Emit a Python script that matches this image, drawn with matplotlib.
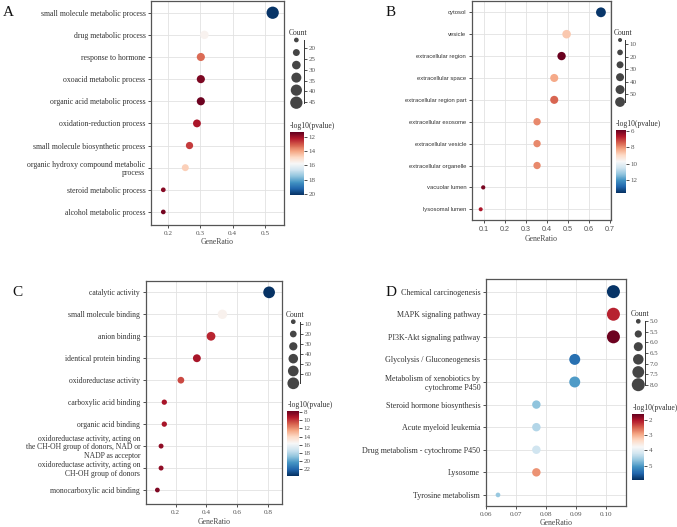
import numpy as np
import matplotlib
matplotlib.use("Agg")
import matplotlib.pyplot as plt
from matplotlib.colors import Normalize
import matplotlib.cm as cm

W, H = 677, 527

# ---------------- data ----------------
a_terms = ["small molecule metabolic process", "drug metabolic process",
           "response to hormone", "oxoacid metabolic process",
           "organic acid metabolic process", "oxidation-reduction process",
           "small molecule biosynthetic process",
           "organic hydroxy compound metabolic\nprocess",
           "steroid metabolic process", "alcohol metabolic process"]
a_ratio = [0.524, 0.313, 0.302, 0.302, 0.302, 0.290, 0.267, 0.254, 0.186, 0.186]
a_count = [45, 27, 26, 26, 26, 25, 23, 22, 16, 16]
a_logp = [20.0, 15.6, 13.3, 11.65, 11.5, 12.2, 12.7, 14.7, 11.8, 11.6]
a_xticks = [0.2, 0.3, 0.4, 0.5]
a_count_ticks = [20, 25, 30, 35, 40, 45]
a_cbar_ticks = [12, 14, 16, 18, 20]

b_terms = ["cytosol", "vesicle", "extracellular region", "extracellular space",
           "extracellular region part", "extracellular exosome",
           "extracellular vesicle", "extracellular organelle",
           "vacuolar lumen", "lysosomal lumen"]
b_ratio = [0.657, 0.493, 0.469, 0.434, 0.434, 0.352, 0.352, 0.352, 0.095, 0.083]
b_count = [56, 42, 40, 37, 37, 30, 30, 30, 8, 7]
b_logp = [13.5, 8.7, 5.95, 8.3, 7.5, 7.9, 7.9, 7.9, 6.1, 6.6]
b_xticks = [0.1, 0.2, 0.3, 0.4, 0.5, 0.6, 0.7]
b_count_ticks = [10, 20, 30, 40, 50]
b_cbar_ticks = [6, 8, 10, 12]

c_terms = ["catalytic activity", "small molecule binding", "anion binding",
           "identical protein binding", "oxidoreductase activity",
           "carboxylic acid binding", "organic acid binding",
           "oxidoreductase activity, acting on\nthe CH-OH group of donors, NAD or\nNADP as acceptor",
           "oxidoreductase activity, acting on\nCH-OH group of donors",
           "monocarboxylic acid binding"]
c_ratio = [0.808, 0.504, 0.430, 0.338, 0.234, 0.126, 0.126, 0.105, 0.105, 0.081]
c_count = [69, 43, 37, 29, 20, 11, 11, 9, 9, 8]
c_logp = [23.5, 15.3, 9.6, 9.1, 10.4, 9.1, 9.1, 8.6, 8.6, 8.2]
c_xticks = [0.2, 0.4, 0.6, 0.8]
c_count_ticks = [10, 20, 30, 40, 50, 60]
c_cbar_ticks = [8, 10, 12, 14, 16, 18, 20, 22]

d_terms = ["Chemical carcinogenesis", "MAPK signaling pathway",
           "PI3K-Akt signaling pathway", "Glycolysis / Gluconeogenesis",
           "Metabolism of xenobiotics by\ncytochrome P450",
           "Steroid hormone biosynthesis", "Acute myeloid leukemia",
           "Drug metabolism - cytochrome P450", "Lysosome", "Tyrosine metabolism"]
d_ratio = [0.1026, 0.1026, 0.1026, 0.0897, 0.0897, 0.0769, 0.0769, 0.0769, 0.0769, 0.0641]
d_count = [8, 8, 8, 7, 7, 6, 6, 6, 6, 5]
d_logp = [5.9, 2.1, 1.65, 5.4, 5.0, 4.65, 4.4, 4.2, 2.8, 4.6]
d_xticks = [0.06, 0.07, 0.08, 0.09, 0.10]
d_count_ticks = [5.0, 5.5, 6.0, 6.5, 7.0, 7.5, 8.0]
d_cbar_ticks = [2, 3, 4, 5]

SERIF = ["Liberation Serif", "DejaVu Serif"]
SANS = ["Liberation Sans", "DejaVu Sans"]

fig = plt.figure(figsize=(W / 100, H / 100), dpi=100)


def rect(l, t, r, b):
    return [l / W, 1 - b / H, (r - l) / W, (b - t) / H]


def sizes(c, cmin, cmax, dmin, dmax):
    c = np.asarray(c, float)
    frac = np.clip((c - cmin) / (cmax - cmin), 0, 1)
    d = np.sqrt(dmin ** 2 + frac * (dmax ** 2 - dmin ** 2))
    return (d * 0.72) ** 2


def panel(letter, letter_xy, terms, ratio, count, logp, xticks, xfmt,
          axr, xlim, ypad, crange, drange, cticks, cfmt, legr, leg_x,
          vrange, vticks, cbr, label_font, label_size, tick_font):
    ax = fig.add_axes(rect(*axr))
    n = len(terms)
    y = np.arange(n)
    s = sizes(count, crange[0], crange[1], drange[0], drange[1])
    ax.scatter(ratio, y, s=s, c=logp, cmap="RdBu", vmin=vrange[0], vmax=vrange[1],
               edgecolors="none", zorder=3)
    ax.set_yticks(y)
    ax.set_yticklabels(terms, fontfamily=label_font, fontsize=label_size,
                       color="#333333", linespacing=1.12)
    ax.set_ylim(n - 1 + ypad[1], -ypad[0])
    ax.set_xlim(*xlim)
    ax.set_xticks(xticks)
    ax.set_xticklabels([xfmt.format(v) for v in xticks], fontfamily=tick_font,
                       fontsize=5.2, color="#555555")
    ax.grid(True, color="#e2e2e2", lw=0.6)
    ax.set_axisbelow(True)
    for sp in ax.spines.values():
        sp.set_color("#555555")
        sp.set_linewidth(0.9)
    ax.tick_params(length=2.5, width=0.6, color="#333333", pad=1.5)
    ax.set_xlabel("GeneRatio", fontfamily=SERIF, fontsize=5.6, color="#444444",
                  labelpad=2)

    # letter
    fig.text(letter_xy[0] / W, 1 - letter_xy[1] / H, letter, fontfamily=SERIF,
             fontsize=11, ha="left", va="baseline", color="#111111")

    # count legend
    lax = fig.add_axes(rect(*legr))
    lax.set_xlim(0, 1)
    lax.set_ylim(crange[1], crange[0])
    vals = np.linspace(crange[0], crange[1], 6)
    lax.scatter(np.full(6, leg_x), vals,
                s=sizes(vals, crange[0], crange[1], drange[0], drange[1]),
                c="#454545", edgecolors="none", clip_on=False)
    for k in ["left", "top", "bottom"]:
        lax.spines[k].set_visible(False)
    lax.spines["right"].set_color("#333333")
    lax.spines["right"].set_linewidth(0.7)
    lax.patch.set_visible(False)
    lax.set_xticks([])
    lax.yaxis.tick_right()
    lax.set_yticks(cticks)
    lax.set_yticklabels([cfmt.format(v) for v in cticks], fontfamily=SERIF,
                        fontsize=5, color="#555555")
    lax.tick_params(axis="y", length=2.5, width=0.6, color="#333333", pad=1)
    fig.text(legr[0] / W, 1 - (legr[1] - 5) / H, "Count", fontfamily=SERIF,
             fontsize=5.5, color="#333333", ha="left", va="baseline")

    # colorbar
    cax = fig.add_axes(rect(*cbr))
    sm = cm.ScalarMappable(norm=Normalize(vrange[0], vrange[1]), cmap="RdBu")
    cb = fig.colorbar(sm, cax=cax)
    cax.invert_yaxis()
    cb.set_ticks(vticks)
    cb.set_ticklabels([str(v) for v in vticks])
    cb.outline.set_visible(False)
    cax.tick_params(length=2.5, width=0.6, color="#333333", pad=1,
                    labelsize=5, labelcolor="#555555")
    for t in cax.get_yticklabels():
        t.set_fontfamily(SERIF)
    fig.text(cbr[0] / W, 1 - (cbr[1] - 4) / H, "-log10(pvalue)", fontfamily=SERIF,
             fontsize=5.5, color="#333333", ha="left", va="baseline")


panel("A", (3, 16), a_terms, a_ratio, a_count, a_logp, a_xticks, "{:.1f}",
      (151, 1, 284, 225), (0.148, 0.559), (0.53, 0.59), (16.1, 45.2), (4.7, 12.3),
      a_count_ticks, "{:d}", (289, 40, 304, 102.7), 0.49,
      (11.4, 20.1), a_cbar_ticks, (290, 132.3, 304, 195), SERIF, 5.6, SERIF)

panel("B", (386, 16), b_terms, b_ratio, b_count, b_logp, b_xticks, "{:.1f}",
      (471.7, 0.7, 611, 220), (0.04, 0.705), (0.53, 0.49), (6.9, 56), (4.0, 9.8),
      b_count_ticks, "{:d}", (614, 40, 625, 102), 0.55,
      (5.9, 13.6), b_cbar_ticks, (616, 130, 626, 193), SANS, 4.2, SANS)

panel("C", (12.7, 296), c_terms, c_ratio, c_count, c_logp, c_xticks, "{:.1f}",
      (145.7, 280.7, 281.7, 504.3), (0.005, 0.89), (0.53, 0.65), (7.7, 68.8), (4.7, 11.7),
      c_count_ticks, "{:d}", (286, 321.7, 300, 383.3), 0.52,
      (7.7, 23.6), c_cbar_ticks, (287.3, 410.7, 299, 476), SERIF, 5.5, SERIF)

panel("D", (386, 296), d_terms, d_ratio, d_count, d_logp, d_xticks, "{:.2f}",
      (485.7, 279, 625.7, 506), (0.06, 0.1067), (0.56, 0.49), (5.0, 8.0), (4.7, 13.0),
      d_count_ticks, "{:.1f}", (631, 321.3, 645, 384.7), 0.52,
      (1.6, 5.94), d_cbar_ticks, (632.3, 414, 644, 480), SERIF, 5.8, SERIF)

fig.savefig("out.png", dpi=100)
